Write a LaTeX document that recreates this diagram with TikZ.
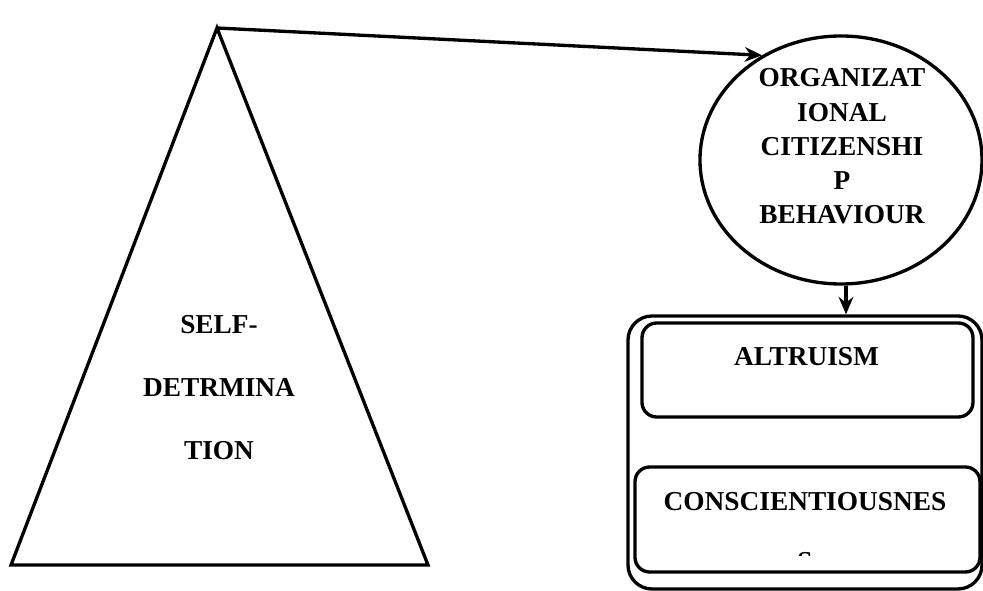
\documentclass[tikz,border=0pt]{standalone}
\usepackage{fontspec}
\setmainfont{Liberation Serif}
\usetikzlibrary{arrows.meta,positioning,shapes.geometric}

\begin{document}
\begin{tikzpicture}[x=0.75pt,y=-0.75pt,line width=2.5pt,
  boldtext/.style={font=\fontsize{20.5}{25.7}\selectfont\bfseries,align=center,inner sep=0pt},
  card/.style={draw,rounded corners=11pt,inner sep=0pt},
  flow/.style={-{Stealth[length=13pt,width=11pt]}}]
  \useasboundingbox (0,0) rectangle (983,591);

  % Triangle on the left
  \coordinate (apex) at (217,28);
  \draw[line join=miter] (apex) -- (428,565) -- (11,565) -- cycle;
  \node[boldtext,font=\fontsize{20.5}{47.3}\selectfont\bfseries] (sdt) at (219,388) {SELF-\\DETRMINA\\TION};

  % Circle on the right
  \node[draw,ellipse,minimum width=211.5pt,minimum height=186pt,inner sep=0pt] (ocb) at (841,160) {};
  \node[boldtext] (ocbtext) at (842,146.5) {ORGANIZAT\\IONAL\\CITIZENSHI\\P\\BEHAVIOUR};

  % Boxes below the circle
  \node[card,rounded corners=18pt,minimum width=265.5pt,minimum height=204.75pt] (traits) at (805,452.5) {};
  \node[card,minimum width=248.25pt,minimum height=70.5pt] (altbox) at (807.5,370) {};
  \node[boldtext] (alt) at (806.5,357) {ALTRUISM};
  \node[card,minimum width=258.75pt,minimum height=78.75pt] (conbox) at (807.5,519.5) {};
  \node[boldtext] (con) at (805,502) {CONSCIENTIOUSNES};
  \begin{scope}
    \clip (700,540) rectangle (900,555.5);
    \node[boldtext] (conend) at (805,562) {S};
  \end{scope}

  % Arrows
  \draw[flow] (apex) -- (ocb.127);
  \draw[flow] ([xshift=3.75pt]ocb.south) -- ([xshift=3.75pt]ocb.south |- traits.north);
\end{tikzpicture}
\end{document}
